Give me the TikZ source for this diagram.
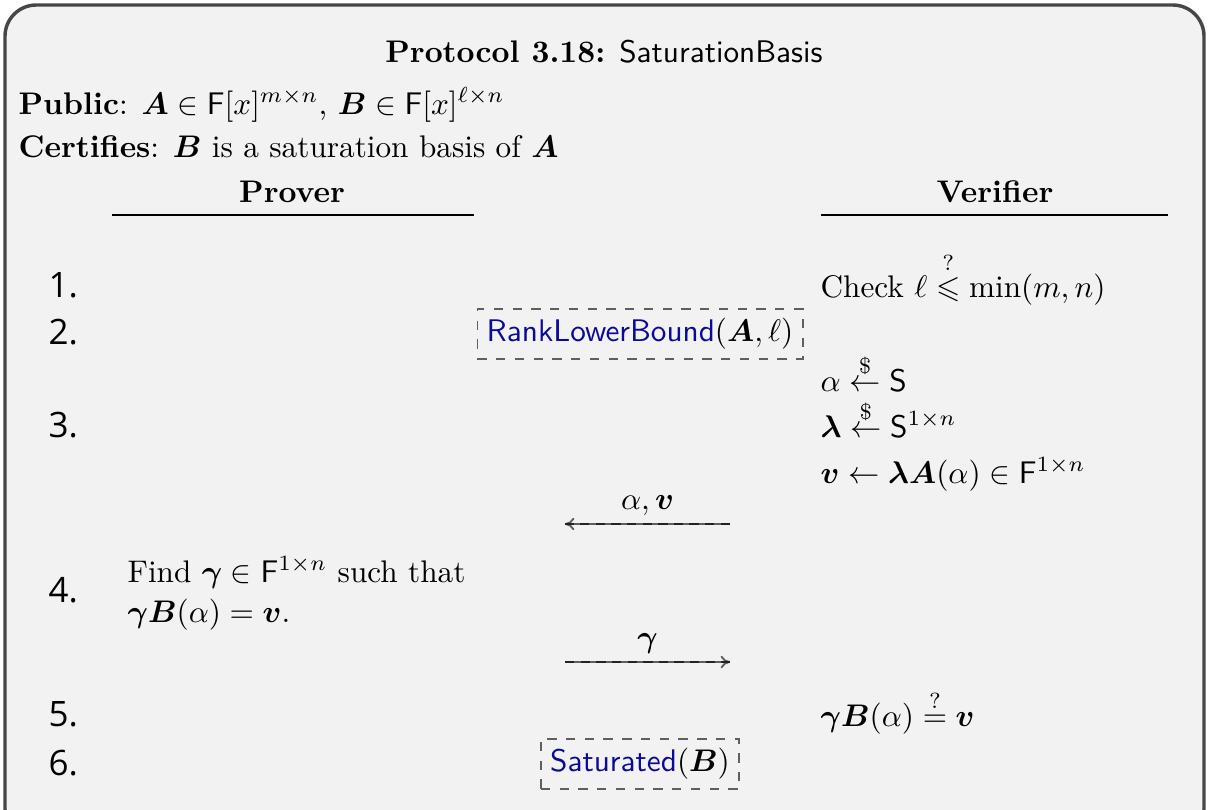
\documentclass[tikz,border=0pt]{standalone}
\usepackage{amsmath, amssymb}
\usepackage{bm}
\usepackage{fontspec}
\newfontfamily\numfont{Open Sans}[Scale=1.12]
\usetikzlibrary{arrows.meta, positioning}
\definecolor{BG}{RGB}{242,242,242}
\definecolor{FR}{RGB}{70,70,70}
\definecolor{DB}{RGB}{10,10,150}
\definecolor{DG}{RGB}{35,35,35}
\definecolor{MG}{RGB}{95,95,95}
\newcommand{\prc}[1]{\textcolor{DB}{\textsf{#1}}}

\begin{document}
\begin{tikzpicture}[
  x=0.32pt, y=-0.32pt,
  txt/.style={anchor=base west, inner sep=0pt},
  role/.style={anchor=base, inner sep=0pt, font=\bfseries},
  num/.style={anchor=base west, inner sep=0pt, font=\numfont},
  callbox/.style={draw=MG, dashed, line width=0.5pt, inner sep=3pt},
  msg/.style={-{To[length=3pt,width=4pt]}, draw=MG, line width=0.6pt},
  msgdash/.style={draw=DG, line width=0.6pt, dash pattern=on 3pt off 2pt}
]
\useasboundingbox (0,0) rectangle (1209,809);
% frame
\draw[FR, fill=BG, line width=1.1pt, rounded corners=10] (5,5) rectangle (1204,840);

% header
\node[anchor=base, inner sep=0pt] (title) at (604,62)
  {\textbf{Protocol 3.18:} \textsf{SaturationBasis}};
\node[txt] (public) at (18,114)
  {\textbf{Public}: $\bm{A} \in \mathsf{F}[x]^{m\times n}$, $\bm{B} \in \mathsf{F}[x]^{\ell\times n}$};
\node[txt] (certifies) at (18,157)
  {\textbf{Certifies}: $\bm{B}$ is a saturation basis of $\bm{A}$};

% parties
\node[role] (prover) at (292,202) {Prover};
\node[role] (verifier) at (995,202) {Verifier};
\coordinate (pl) at (112,215); \coordinate (pr) at (474,215);
\coordinate (vl) at (821,215); \coordinate (vr) at (1168,215);
\draw[line width=0.5pt] (pl) -- (pr);
\draw[line width=0.5pt] (vl) -- (vr);

% step numbers
\foreach \n/\y in {1/297,2/344,3/437,4/602,5/726,6/775}{
  \node[num] (n\n) at (48,\y) {\n.};
}

% verifier steps
\node[txt] (chk) at (820,297) {Check $\ell \overset{?}{\leqslant} \min(m,n)$};
\node[txt] (alpha) at (820,391) {$\alpha \overset{\$}{\leftarrow} \mathsf{S}$};
\node[txt] (lam) at (820,437) {$\bm{\lambda} \overset{\$}{\leftarrow} \mathsf{S}^{1\times n}$};
\node[txt] (vec) at (820,483) {$\bm{v} \leftarrow \bm{\lambda}\bm{A}(\alpha) \in \mathsf{F}^{1\times n}$};
\node[txt] (test) at (820,726) {$\bm{\gamma}\bm{B}(\alpha) \overset{?}{=} \bm{v}$};

% prover step
\node[txt] (find) at (127,582) {Find $\bm{\gamma} \in \mathsf{F}^{1\times n}$ such that};
\node[txt] (eq) at (127,622) {$\bm{\gamma}\bm{B}(\alpha) = \bm{v}$.};

% subprotocol calls
\node[callbox] (rlb) at (640,334) {\prc{RankLowerBound}$(\bm{A},\ell)$};
\node[callbox] (sat) at (640,764) {\prc{Saturated}$(\bm{B})$};

% messages
\coordinate (m1a) at (730,524); \coordinate (m1b) at (565,524);
\coordinate (m2a) at (565,662); \coordinate (m2b) at (730,662);
\draw[msg] (m1a) -- node[above=-1pt] (lbl1) {$\alpha, \bm{v}$} (m1b);
\draw[msgdash] (m1a) -- (m1b);
\draw[msg] (m2a) -- node[above=-1pt] (lbl2) {$\bm{\gamma}$} (m2b);
\draw[msgdash] (m2a) -- (m2b);
\end{tikzpicture}
\end{document}
